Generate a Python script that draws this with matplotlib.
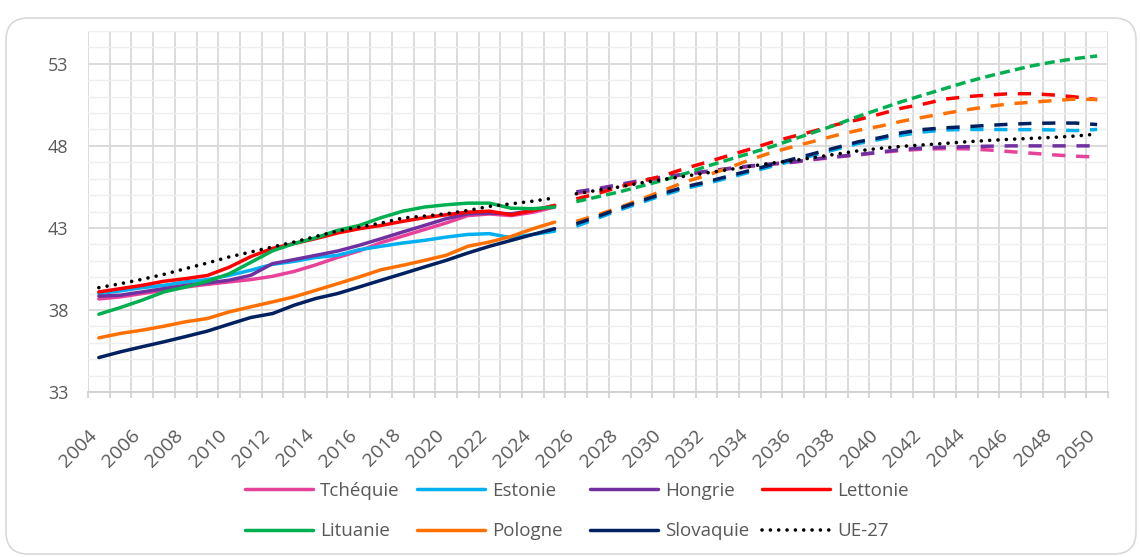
import matplotlib
matplotlib.use('Agg')
import matplotlib.pyplot as plt
from matplotlib.patches import FancyBboxPatch
from matplotlib.transforms import ScaledTranslation
import numpy as np

plt.rcParams['font.family'] = ['Open Sans', 'DejaVu Sans']

# years: observed up to 2025, projected afterwards
hist_years = list(range(2004, 2026))
proj_years = list(range(2026, 2051))

# median age, observed
tchequie_hist = [38.67, 38.8, 39.0, 39.2, 39.4, 39.56, 39.71, 39.85, 40.05, 40.35, 40.75,
                 41.2, 41.6, 42.1, 42.5, 42.9, 43.3, 43.75, 43.85, 43.75, 43.95, 44.27]
estonie_hist = [39.0, 39.16, 39.36, 39.5, 39.71, 39.85, 40.11, 40.42, 40.78, 40.96, 41.2,
                41.33, 41.67, 41.88, 42.08, 42.24, 42.44, 42.6, 42.65, 42.4, 42.6, 42.8]
hongrie_hist = [38.84, 38.9, 39.1, 39.3, 39.5, 39.65, 39.81, 40.11, 40.82, 41.07, 41.33,
                41.59, 41.94, 42.34, 42.75, 43.15, 43.56, 43.86, 43.9, 43.86, 44.06, 44.37]
lettonie_hist = [39.1, 39.3, 39.5, 39.75, 39.91, 40.1, 40.6, 41.25, 41.75, 42.05, 42.35,
                 42.69, 42.95, 43.15, 43.4, 43.62, 43.8, 43.96, 44.02, 43.8, 44.06, 44.37]
lituanie_hist = [37.74, 38.15, 38.6, 39.1, 39.4, 39.75, 40.2, 40.9, 41.6, 42.05, 42.4,
                 42.85, 43.15, 43.62, 44.02, 44.27, 44.41, 44.51, 44.51, 44.2, 44.17, 44.27]
pologne_hist = [36.3, 36.57, 36.77, 37.01, 37.28, 37.48, 37.88, 38.19, 38.49, 38.8, 39.2,
                39.6, 40.01, 40.45, 40.72, 41.02, 41.33, 41.88, 42.14, 42.48, 42.95, 43.35]
slovaquie_hist = [35.1, 35.45, 35.76, 36.06, 36.38, 36.71, 37.13, 37.54, 37.78, 38.29, 38.7,
                  39.0, 39.4, 39.81, 40.21, 40.62, 41.02, 41.47, 41.88, 42.24, 42.6, 42.95]
ue27_hist = [39.36, 39.6, 39.87, 40.17, 40.52, 40.86, 41.23, 41.53, 41.84, 42.14, 42.48,
             42.81, 43.05, 43.29, 43.6, 43.72, 43.86, 44.06, 44.31, 44.47, 44.63, 44.83]

# median age, projections
tchequie_proj = [45.1, 45.3, 45.6, 45.85, 46.05, 46.25, 46.42, 46.6, 46.75, 46.88, 47.0, 47.17,
                 47.32, 47.45, 47.6, 47.72, 47.8, 47.83, 47.82, 47.75, 47.65, 47.55, 47.45,
                 47.37, 47.32]
estonie_proj = [43.1, 43.6, 44.1, 44.55, 45.0, 45.4, 45.7, 46.05, 46.4, 46.75, 47.1, 47.45,
                47.8, 48.15, 48.4, 48.65, 48.85, 48.97, 49.0, 49.0, 48.99, 48.99, 48.97,
                48.93, 49.0]
hongrie_proj = [45.2, 45.4, 45.65, 45.9, 46.1, 46.28, 46.45, 46.62, 46.78, 46.9, 47.02, 47.2,
                47.35, 47.47, 47.62, 47.78, 47.87, 47.92, 47.95, 47.98, 48.0, 48.0, 48.0,
                48.0, 48.0]
lettonie_proj = [44.77, 45.1, 45.5, 45.85, 46.18, 46.62, 47.0, 47.4, 47.8, 48.22, 48.58, 48.92,
                 49.3, 49.6, 49.94, 50.3, 50.55, 50.85, 51.0, 51.1, 51.18, 51.18, 51.1,
                 50.98, 50.82]
lituanie_proj = [44.6, 44.9, 45.2, 45.55, 45.9, 46.3, 46.75, 47.15, 47.55, 47.95, 48.4, 48.85,
                 49.3, 49.8, 50.25, 50.7, 51.1, 51.5, 51.9, 52.25, 52.57, 52.88, 53.12,
                 53.32, 53.48]
pologne_proj = [43.4, 43.8, 44.25, 44.75, 45.28, 45.8, 46.2, 46.65, 47.15, 47.6, 47.95, 48.3,
                48.65, 48.95, 49.2, 49.5, 49.75, 49.98, 50.2, 50.4, 50.57, 50.66, 50.76,
                50.85, 50.82]
slovaquie_proj = [43.25, 43.7, 44.2, 44.65, 45.1, 45.5, 45.8, 46.15, 46.5, 46.85, 47.2, 47.55,
                  47.9, 48.25, 48.5, 48.8, 49.0, 49.1, 49.17, 49.25, 49.32, 49.37, 49.39,
                  49.39, 49.3]
ue27_proj = [45.08, 45.3, 45.5, 45.75, 45.95, 46.15, 46.35, 46.55, 46.75, 46.95, 47.1, 47.3,
             47.5, 47.7, 47.85, 47.97, 48.06, 48.15, 48.25, 48.33, 48.4, 48.46, 48.52,
             48.6, 48.72]

countries = ['Tchéquie', 'Estonie', 'Hongrie', 'Lettonie', 'Lituanie', 'Pologne', 'Slovaquie']
colors = ['#E8419A', '#00B0F0', '#7030A0', '#FF0000', '#00B050', '#FF7000', '#002060']
hist_series = [tchequie_hist, estonie_hist, hongrie_hist, lettonie_hist,
               lituanie_hist, pologne_hist, slovaquie_hist]
proj_series = [tchequie_proj, estonie_proj, hongrie_proj, lettonie_proj,
               lituanie_proj, pologne_proj, slovaquie_proj]

fig = plt.figure(figsize=(11.4, 5.57), dpi=100)

# rounded frame around the chart
frame = FancyBboxPatch((0.06, 0.03), 11.3, 5.36,
                       boxstyle='round,pad=0,rounding_size=0.22',
                       transform=fig.dpi_scale_trans, facecolor='none',
                       edgecolor='#d9d9d9', lw=1.2, zorder=-1)
fig.patches.append(frame)

ax = fig.add_axes([88 / 1140, 165 / 557, 1020 / 1140, 361 / 557])
ax.set_facecolor('none')

lw = 2.5
handles = {}
for name, col, h, p in zip(countries, colors, hist_series, proj_series):
    line, = ax.plot(hist_years, h, color=col, lw=lw, solid_capstyle='round',
                    label=name, zorder=3)
    if name == 'Lituanie':
        dash = (2.9, 1.5)
    else:
        dash = (3.8, 3.1)
    ax.plot(proj_years, p, color=col, lw=lw, dashes=dash,
            dash_capstyle='butt', zorder=3)
    handles[name] = line

dot_style = (0, (0.01, 2.3))
ue, = ax.plot(hist_years, ue27_hist, color='black', lw=2.6, linestyle=dot_style,
              dash_capstyle='round', label='UE-27', zorder=4)
ax.plot(proj_years, ue27_proj, color='black', lw=2.6, linestyle=dot_style,
        dash_capstyle='round', zorder=4)
handles['UE-27'] = ue

ax.set_xlim(2003.5, 2050.5)
ax.set_ylim(33, 55)

ax.set_xticks(list(range(2004, 2051, 2)))
ax.set_xticks(np.arange(2003.5, 2051, 1), minor=True)
ax.set_yticks([33, 38, 43, 48, 53])
ax.set_yticks(np.arange(33, 56, 1), minor=True)

ax.grid(axis='y', which='minor', color='#eeeeee', lw=1.0, zorder=0)
ax.grid(axis='y', which='major', color='#d9d9d9', lw=1.3, zorder=0)
ax.grid(axis='x', which='minor', color='#d9d9d9', lw=1.3, zorder=0)
ax.set_axisbelow(True)

for s in ['top', 'right', 'left']:
    ax.spines[s].set_visible(False)
ax.spines['bottom'].set_color('#d0d0d0')
ax.spines['bottom'].set_linewidth(1.3)

ax.tick_params(axis='y', which='both', length=0, labelsize=13,
               labelcolor='#595959', pad=14)
ax.tick_params(axis='x', which='major', length=0, labelsize=14,
               labelcolor='#595959', pad=29)
ax.tick_params(axis='x', which='minor', length=4, color='#d0d0d0', width=1.2)
shift = ScaledTranslation(-0.05, 0, fig.dpi_scale_trans)
for lab in ax.get_xticklabels():
    lab.set_rotation(45)
    lab.set_ha('right')
    lab.set_va('center')
    lab.set_rotation_mode('anchor')
    lab.set_transform(lab.get_transform() + shift)

# legend: four equal-width columns, like the original
columns = [['Tchéquie', 'Lituanie'], ['Estonie', 'Pologne'],
           ['Hongrie', 'Slovaquie'], ['Lettonie', 'UE-27']]
col_left = [245, 417, 590, 762]
for names, x0 in zip(columns, col_left):
    fig.legend([handles[k] for k in names], names, loc='center left',
               bbox_to_anchor=(x0 / 1140, 46 / 557), frameon=False,
               fontsize=13.5, handlelength=3.6, handletextpad=0.4,
               labelspacing=1.2, borderpad=0, borderaxespad=0,
               labelcolor='#595959')

fig.savefig('out.png', dpi=100)
